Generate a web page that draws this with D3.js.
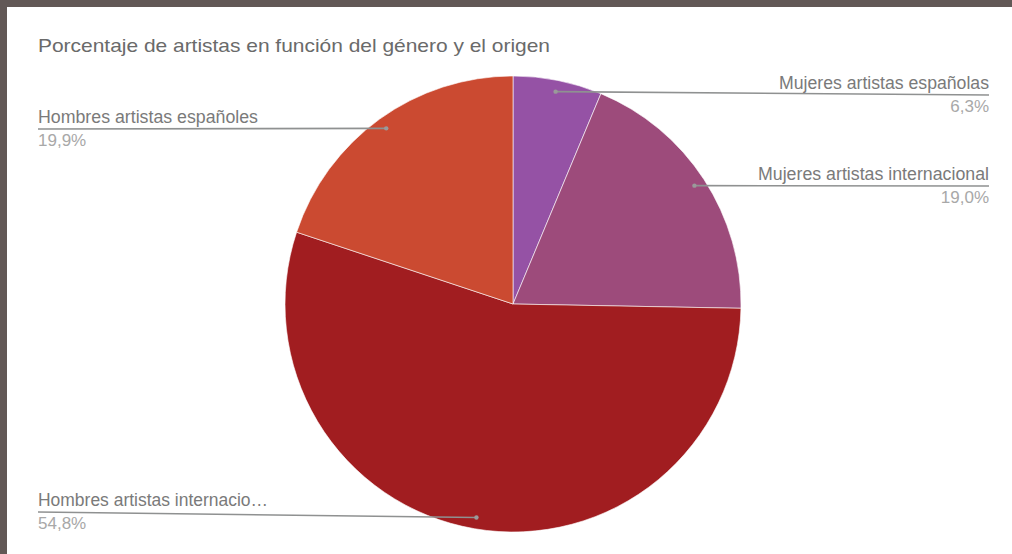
<!DOCTYPE html>
<html><head><meta charset="utf-8">
<script src="https://cdn.jsdelivr.net/npm/d3@7"></script>
<style>
html,body{margin:0;padding:0;background:#fff;overflow:hidden;width:1012px;height:554px;}
::-webkit-scrollbar{display:none;width:0;height:0;}
svg{display:block;position:fixed;left:0;top:0;}
</style></head>
<body>
<script>
const title = "Porcentaje de artistas en función del género y el origen";
const categories = ["Mujeres artistas españolas","Mujeres artistas internacional","Hombres artistas internacionales","Hombres artistas españoles"];
const displayLabels = ["Mujeres artistas españolas","Mujeres artistas internacional","Hombres artistas internacio…","Hombres artistas españoles"];
const values = [6.3, 19.0, 54.8, 19.9];
const valueLabels = ["6,3%","19,0%","54,8%","19,9%"];
const colors = ["#9552a5","#9d4b7b","#a11d20","#cb4a31"];

const W = 1012, H = 554;
const svg = d3.select("body").append("svg").attr("width", W).attr("height", H);

svg.append("rect").attr("x",0).attr("y",0).attr("width",W).attr("height",H).attr("fill","#fff");
svg.append("rect").attr("x",0).attr("y",0).attr("width",W).attr("height",7).attr("fill","#625856");
svg.append("rect").attr("x",0).attr("y",0).attr("width",7).attr("height",H).attr("fill","#625856");

const font = "Liberation Sans, Arial, sans-serif";
svg.append("text").attr("x",38).attr("y",52)
  .attr("font-family",font).attr("font-size",18.5)
  .attr("textLength",512).attr("lengthAdjust","spacingAndGlyphs")
  .attr("fill","#6a6a6a").text(title);

const cx = 513, cy = 304, R = 228;
const pie = d3.pie().sort(null).value(d => d)(values);
const arc = d3.arc().innerRadius(0).outerRadius(R);
const g = svg.append("g").attr("transform",`translate(${cx},${cy})`);
g.selectAll("path").data(pie).enter().append("path")
  .attr("d", arc).attr("fill",(d,i)=>colors[i])
  .attr("stroke","#fff").attr("stroke-width",0.6);

const labelSide = ["right","right","left","left"];
const lineY = [95, 186, 512, 129];
const leftX = 38, rightX = 989;
const labelWidths = [210, 231, 230, 220];

const dotArc = d3.arc().innerRadius(R*0.95).outerRadius(R*0.95);
pie.forEach((d,i)=>{
  const c = dotArc.centroid(d);
  const px = cx + c[0], py = cy + c[1];
  const ly = lineY[i];
  const endX = labelSide[i]==="right" ? rightX : leftX;
  svg.append("line").attr("x1",px).attr("y1",py).attr("x2",endX).attr("y2",ly)
    .attr("stroke","#8f9191").attr("stroke-width",1.6);
  svg.append("circle").attr("cx",px).attr("cy",py).attr("r",2.2).attr("fill","#9a9a9a");
  const anchor = labelSide[i]==="right" ? "end" : "start";
  svg.append("text").attr("x",endX).attr("y",ly-6)
    .attr("text-anchor",anchor).attr("font-family",font).attr("font-size",17.5)
    .attr("textLength",labelWidths[i]).attr("lengthAdjust","spacingAndGlyphs")
    .attr("fill","#7a7a7a").text(displayLabels[i]);
  svg.append("text").attr("x",endX).attr("y",ly+17)
    .attr("text-anchor",anchor).attr("font-family",font).attr("font-size",17)
    .attr("fill","#a8a8a8").text(valueLabels[i]);
});
</script>
</body></html>
